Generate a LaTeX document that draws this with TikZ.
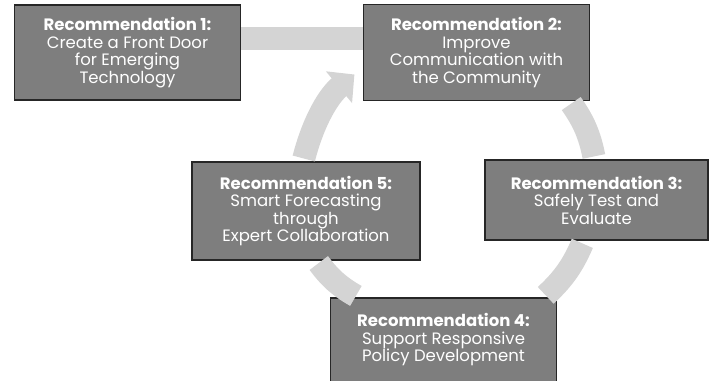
\documentclass[tikz,border=0pt]{standalone}
\usepackage{fontspec}
\setmainfont{Poppins}
\usepackage{tikz}
\usetikzlibrary{positioning,arrows.meta}

\definecolor{recgray}{HTML}{7E7E7E}
\definecolor{flowgray}{HTML}{D4D4D4}

\begin{document}
\begin{tikzpicture}[x=1pt,y=-1pt,on grid,
    rec/.style={draw=black!85,line width=1.2pt,fill=recgray,text=white,
        minimum width=226pt,align=center,inner sep=0pt,
        font=\fontsize{16.5}{17.5}\selectfont},
    flow/.style={draw=flowgray,line width=23pt,shorten <=3pt,shorten >=3pt}]
   \useasboundingbox (0,0) rectangle (709,380);
       \node[rec, minimum height=95pt] (rec_1) at (127.5,52.5)
           {\textbf{Recommendation 1:}\\Create a Front Door\\for Emerging\\Technology};
       \node[rec, minimum height=96pt] (rec_2) [right=349pt of rec_1]
           {\textbf{Recommendation 2:}\\Improve\\Communication with\\the Community};
       \node[rec, minimum height=80pt, minimum width=223pt] (rec_3) at (596.5,200)
           {\textbf{Recommendation 3:}\\Safely Test and\\Evaluate};
       \node[rec, minimum height=84pt] (rec_4) at (443.5,340)
           {\textbf{Recommendation 4:}\\Support Responsive\\Policy Development};
       \node[rec, minimum height=98pt, minimum width=228pt] (rec_5) at (306,211)
           {\textbf{Recommendation 5:}\\Smart Forecasting\\through\\Expert Collaboration};
        % cycle of bands
        \draw[flow,shorten <=0pt,shorten >=0pt] ([yshift=14pt]rec_1.east) -- ([yshift=14pt]rec_2.west);
        \draw[flow] ([xshift=93pt]rec_2.south) to[bend left=12] ([xshift=-2pt]rec_3.north);
        \draw[flow] ([xshift=-13pt]rec_3.south) to[bend left=12] ([xshift=100pt]rec_4.north);
        \draw[flow] ([xshift=-85pt]rec_4.north) to[bend left=12] ([xshift=11pt]rec_5.south);
        \draw[flow,-{Triangle[width=40pt,length=20pt]},shorten >=11pt]
            ([xshift=-3pt]rec_5.north) to[bend left=18] ([yshift=-15pt]rec_2.west);
\end{tikzpicture}
\end{document}
